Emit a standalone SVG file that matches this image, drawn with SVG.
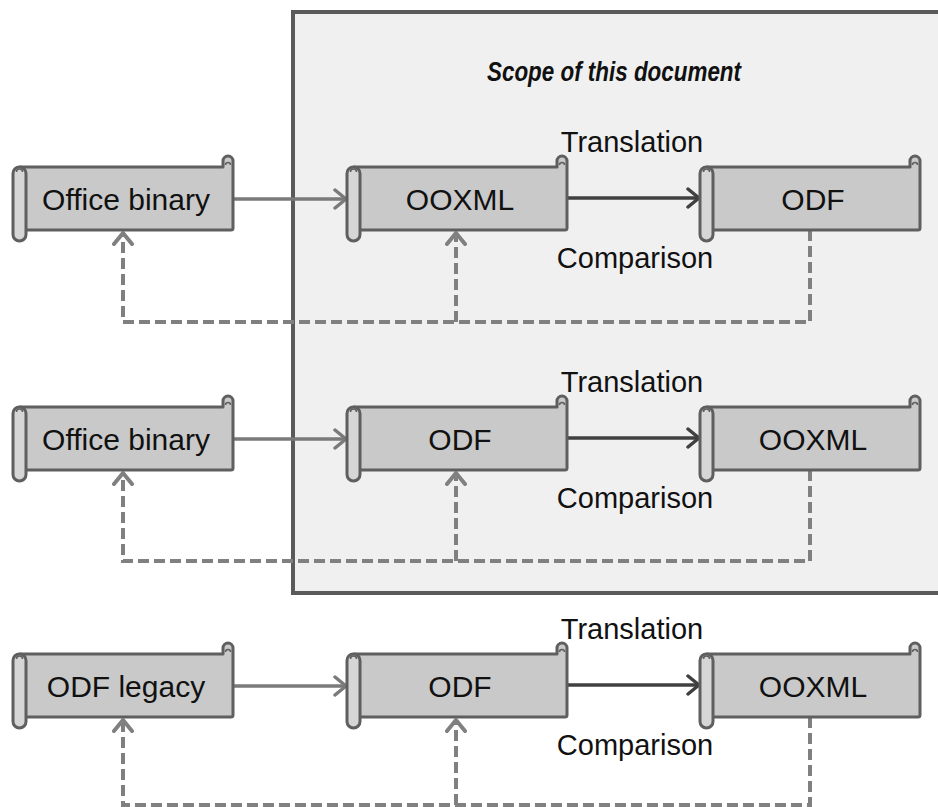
<svg xmlns="http://www.w3.org/2000/svg" width="938" height="807" viewBox="0 0 938 807">
<style>
.body{fill:#c9c9c9;stroke:#5f5f5f;stroke-width:3;stroke-linejoin:round}
.roll{fill:#d6d6d6;stroke:#5f5f5f;stroke-width:3}
.curl{fill:none;stroke:#5f5f5f;stroke-width:1.5}
.nt{font-family:"Liberation Sans",Arial,sans-serif;font-size:30px;fill:#111;text-anchor:middle}
.lbl{font-family:"Liberation Sans",Arial,sans-serif;font-size:29px;fill:#111;text-anchor:middle}
.solid{fill:none;stroke:#7a7a7a;stroke-width:3.5}
.dark{fill:none;stroke:#404040;stroke-width:3.5}
.dash{fill:none;stroke:#808080;stroke-width:4;stroke-dasharray:11 5}
</style>
<defs>
<marker id="ag" viewBox="-15 -11 18 22" refX="0" refY="0" markerWidth="18" markerHeight="22" markerUnits="userSpaceOnUse" orient="auto">
<path d="M-11,-9 L0,0 L-11,9" fill="none" stroke="#7a7a7a" stroke-width="3.5" stroke-linecap="round" stroke-linejoin="round"/>
</marker>
<marker id="ad" viewBox="-15 -11 18 22" refX="0" refY="0" markerWidth="18" markerHeight="22" markerUnits="userSpaceOnUse" orient="auto">
<path d="M-11,-9 L0,0 L-11,9" fill="none" stroke="#404040" stroke-width="3.5" stroke-linecap="round" stroke-linejoin="round"/>
</marker>
<marker id="ah" viewBox="-15 -11 18 22" refX="0" refY="0" markerWidth="18" markerHeight="22" markerUnits="userSpaceOnUse" orient="auto">
<path d="M-11,-9 L0,0 L-11,9" fill="none" stroke="#808080" stroke-width="4" stroke-linecap="round" stroke-linejoin="round"/>
</marker>
<g id="scroll">
<path class="body" d="M7,11 H210 V5 A5,5 0 0 1 220,5 V72 A2,2 0 0 1 218,74 H7 Z"/>
<path class="curl" d="M212.5,9 A2.5,2.5 0 0 1 217.5,9"/>
<rect class="roll" x="0" y="11" width="13" height="74" rx="6.5"/>
<path class="curl" d="M3.5,16 A3,3 0 0 1 9.5,16"/>
</g>
</defs>

<g id="scope">
<rect x="293" y="12" width="660" height="581" fill="#f0f0f0" stroke="#5a5a5a" stroke-width="4"/>
<text x="614" y="81" font-family="'Liberation Sans',Arial,sans-serif" font-size="28" font-weight="bold" font-style="italic" fill="#111" text-anchor="middle" textLength="254" lengthAdjust="spacingAndGlyphs">Scope of this document</text>
</g>

<g id="connectors">
<line class="solid" x1="233" y1="199" x2="346" y2="199" marker-end="url(#ag)"/>
<line class="dark" x1="567" y1="198" x2="699" y2="198" marker-end="url(#ad)"/>
<path class="dash" d="M810,230 V322 H123 V233" marker-end="url(#ah)"/>
<path class="dash" d="M456,322 V233" marker-end="url(#ah)"/>
<line class="solid" x1="233" y1="439" x2="346" y2="439" marker-end="url(#ag)"/>
<line class="dark" x1="567" y1="438" x2="699" y2="438" marker-end="url(#ad)"/>
<path class="dash" d="M810,470 V561 H123 V473" marker-end="url(#ah)"/>
<path class="dash" d="M456,561 V473" marker-end="url(#ah)"/>
<line class="solid" x1="233" y1="686" x2="346" y2="686" marker-end="url(#ag)"/>
<line class="dark" x1="567" y1="685" x2="699" y2="685" marker-end="url(#ad)"/>
<path class="dash" d="M810,717 V805 H123 V720" marker-end="url(#ah)"/>
<path class="dash" d="M456,805 V720" marker-end="url(#ah)"/>
</g>

<g id="labels">
<text class="lbl" x="632" y="152">Translation</text>
<text class="lbl" x="635" y="268">Comparison</text>
<text class="lbl" x="632" y="392">Translation</text>
<text class="lbl" x="635" y="508">Comparison</text>
<text class="lbl" x="632" y="639">Translation</text>
<text class="lbl" x="635" y="755">Comparison</text>
</g>

<g id="n1-office-binary"><use href="#scroll" x="13" y="156"/><text class="nt" x="126" y="210">Office binary</text></g>
<g id="n1-ooxml"><use href="#scroll" x="347" y="156"/><text class="nt" x="460" y="210">OOXML</text></g>
<g id="n1-odf"><use href="#scroll" x="700" y="156"/><text class="nt" x="813" y="210">ODF</text></g>

<g id="n2-office-binary"><use href="#scroll" x="13" y="396"/><text class="nt" x="126" y="450">Office binary</text></g>
<g id="n2-odf"><use href="#scroll" x="347" y="396"/><text class="nt" x="460" y="450">ODF</text></g>
<g id="n2-ooxml"><use href="#scroll" x="700" y="396"/><text class="nt" x="813" y="450">OOXML</text></g>

<g id="n3-odf-legacy"><use href="#scroll" x="13" y="643"/><text class="nt" x="126" y="697">ODF legacy</text></g>
<g id="n3-odf"><use href="#scroll" x="347" y="643"/><text class="nt" x="460" y="697">ODF</text></g>
<g id="n3-ooxml"><use href="#scroll" x="700" y="643"/><text class="nt" x="813" y="697">OOXML</text></g>
</svg>
